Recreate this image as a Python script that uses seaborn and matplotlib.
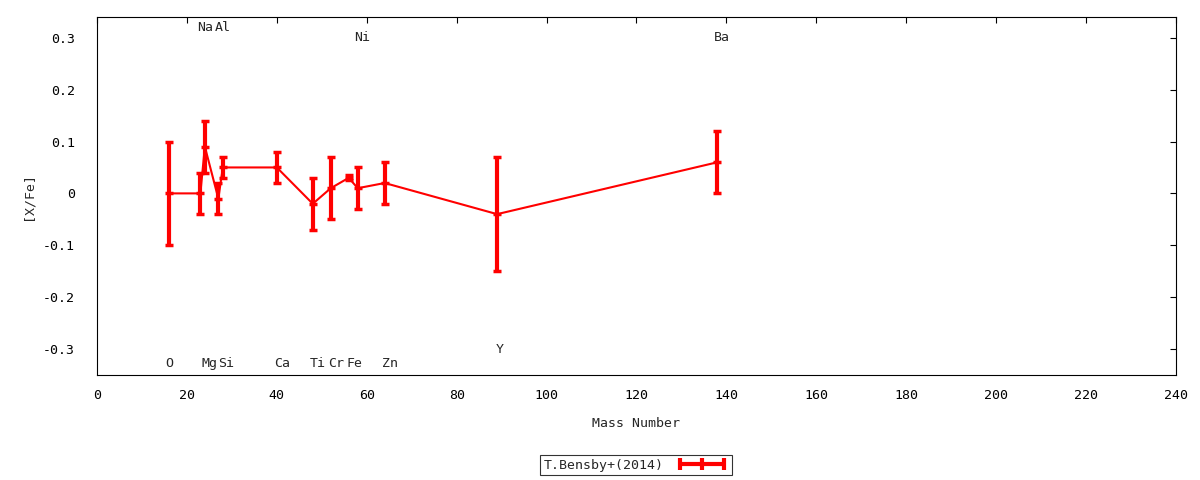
import numpy as np
import pandas as pd
import seaborn as sns
import matplotlib
matplotlib.use("Agg")
import matplotlib.pyplot as plt
from matplotlib.lines import Line2D
from matplotlib.ticker import FuncFormatter

# abundance ratios vs mass number
mass = [16, 23, 24, 27, 28, 40, 48, 52, 56, 58, 64, 89, 138]
xfe = [0.00, 0.00, 0.09, -0.01, 0.05, 0.05, -0.02, 0.01, 0.03, 0.01, 0.02, -0.04, 0.06]
err = [0.10, 0.04, 0.05, 0.03, 0.02, 0.03, 0.05, 0.06, 0.005, 0.04, 0.04, 0.11, 0.06]

# element labels (text, x, y)
lab_text = ["Na", "Al", "Ni", "Ba", "O", "Mg", "Si", "Ca", "Ti", "Cr", "Fe", "Zn", "Y"]
lab_x = [24.0, 28.0, 59.0, 139.1, 16.1, 25.0, 28.8, 41.1, 49.2, 53.3, 57.2, 65.2, 89.5]
lab_y = [0.32, 0.32, 0.30, 0.30, -0.328, -0.328, -0.328, -0.328, -0.328, -0.328, -0.328, -0.328, -0.30]

df = pd.DataFrame({"mass": mass, "xfe": xfe, "err": err})

sns.set_style("white")
plt.rcParams['font.family'] = ['DejaVu Sans Mono', 'DejaVu Sans']
fs = 9.5

fig = plt.figure(figsize=(12, 4.8), dpi=100)
ax = fig.add_axes([0.0808, 0.2188, 0.8992, 0.7458])

red = "#ff0000"
sns.lineplot(data=df, x="mass", y="xfe", color=red, linewidth=1.5,
             estimator=None, sort=False, ax=ax, legend=False)
ax.errorbar(df["mass"], df["xfe"], yerr=df["err"], fmt="none", ecolor=red,
            elinewidth=3, capsize=3, capthick=2.5)
ax.plot(df["mass"], df["xfe"], ls="none", marker="_", ms=6, mew=2.5, color=red)

for t, x, y in zip(lab_text, lab_x, lab_y):
    ax.text(x, y, t, ha="center", va="center", fontsize=fs)

ax.set_xlim(0, 240)
ax.set_ylim(-0.35, 0.34)
ax.set_xticks(np.arange(0, 241, 20))
ax.set_yticks([-0.3, -0.2, -0.1, 0, 0.1, 0.2, 0.3])
ax.yaxis.set_major_formatter(FuncFormatter(lambda v, p: f"{v:g}" if abs(v) > 1e-9 else "0"))
ax.tick_params(direction="in", length=4, width=0.8, top=True, right=True,
               labelsize=fs, colors="black")
ax.tick_params(axis="x", pad=10)
ax.tick_params(axis="y", pad=16)
for s in ax.spines.values():
    s.set_color("black")
    s.set_linewidth(0.8)

ax.set_xlabel("Mass Number", fontsize=fs, labelpad=11)
ax.set_ylabel("[X/Fe]", fontsize=fs, labelpad=6)

handle = Line2D([], [], color=red, lw=3, marker="|", ms=8, mew=3)
leg = fig.legend([handle], ["T.Bensby+(2014)"], loc="center", bbox_to_anchor=(0.53, 0.031),
                 numpoints=3, markerfirst=False, handlelength=4.0, fontsize=fs,
                 frameon=True, fancybox=False, borderpad=0.25, handletextpad=0.9)
leg.get_frame().set_edgecolor("black")
leg.get_frame().set_linewidth(0.8)

fig.savefig("out.png", dpi=100)
